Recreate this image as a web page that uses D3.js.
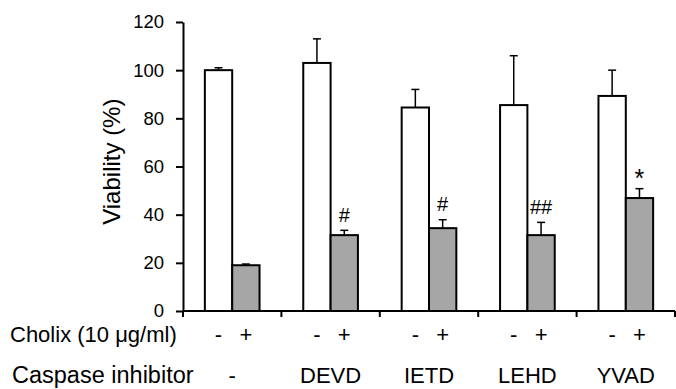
<!DOCTYPE html>
<html>
<head>
<meta charset="utf-8">
<script src="https://cdn.jsdelivr.net/npm/d3@7"></script>
<style>
  body { margin: 0; background: #fff; }
  text { font-family: Arial, "Liberation Sans", sans-serif; fill: #000; }
</style>
</head>
<body>
<div id="chart"></div>
<script>
// data
const inhibitors = ["-", "DEVD", "IETD", "LEHD", "YVAD"];
const controlVals = [100, 103, 84.5, 85.5, 89.3];   // cholix -
const controlErr  = [1, 10, 7.5, 20.5, 10.7];
const cholixVals  = [19, 31.5, 34.4, 31.5, 46.9];   // cholix +
const cholixErr   = [0.5, 2, 3.5, 5.3, 3.9];
const marks       = ["", "#", "#", "##", "*"];
const yTicks      = [0, 20, 40, 60, 80, 100, 120];

const W = 676, H = 389;
const margin = { top: 22, right: 1, bottom: 78, left: 183 };
const w = W - margin.left - margin.right,
      h = H - margin.top - margin.bottom;

const svg = d3.select("#chart")
  .append("svg")
    .attr("width", W)
    .attr("height", H);

const g = svg.append("g")
    .attr("transform", `translate(${margin.left},${margin.top})`);

// scales
const x = d3.scaleBand()
  .domain(inhibitors)
  .range([0, w]);

const sub = d3.scaleBand()
  .domain(["-", "+"])
  .range([0, x.bandwidth()])
  .paddingOuter(0.8)
  .paddingInner(0);

const y = d3.scaleLinear()
  .domain([0, 120])
  .range([h, 0]);

// y axis
const yAxis = g.append("g")
  .call(d3.axisLeft(y).tickValues(yTicks).tickSize(7).tickSizeOuter(0));
yAxis.select(".domain").attr("stroke-width", 2);
yAxis.selectAll(".tick line").attr("stroke-width", 2);
yAxis.selectAll(".tick text")
  .attr("x", -19)
  .attr("font-size", "18.5px")
  .attr("font-family", "Arial, 'Liberation Sans', sans-serif");

// y label
g.append("text")
  .attr("transform", `translate(-63,${y(62)}) rotate(-90)`)
  .attr("text-anchor", "middle")
  .attr("font-size", "24px")
  .text("Viability (%)");

// bars
const rows = inhibitors.map((k, i) => ([
  { grp: k, s: "-", v: controlVals[i], e: controlErr[i], fill: "#ffffff" },
  { grp: k, s: "+", v: cholixVals[i], e: cholixErr[i], fill: "#a6a6a6" }
])).flat();

const cx = d => x(d.grp) + sub(d.s) + sub.bandwidth() / 2;

const bar = g.selectAll(".bar")
  .data(rows)
  .enter()
  .append("g")
    .attr("class", "bar");

// error bars (upper only)
bar.append("line")
  .attr("x1", cx)
  .attr("x2", cx)
  .attr("y1", d => y(d.v))
  .attr("y2", d => y(d.v + d.e))
  .attr("stroke", "#000")
  .attr("stroke-width", 1.5);

bar.append("line")
  .attr("x1", d => cx(d) - 4)
  .attr("x2", d => cx(d) + 4)
  .attr("y1", d => y(d.v + d.e))
  .attr("y2", d => y(d.v + d.e))
  .attr("stroke", "#000")
  .attr("stroke-width", 1.5);

bar.append("rect")
  .attr("x", d => x(d.grp) + sub(d.s))
  .attr("y", d => y(d.v))
  .attr("width", sub.bandwidth())
  .attr("height", d => h - y(d.v))
  .attr("fill", d => d.fill)
  .attr("stroke", "#000")
  .attr("stroke-width", 2);

// significance marks
g.selectAll(".mark")
  .data(inhibitors)
  .enter()
  .append("text")
    .attr("class", "mark")
    .attr("x", d => x(d) + sub("+") + sub.bandwidth() / 2)
    .attr("y", (d, i) => y(cholixVals[i] + cholixErr[i]) - (marks[i] === "*" ? 2 : 8.5))
    .attr("text-anchor", "middle")
    .attr("font-size", (d, i) => marks[i] === "*" ? "25px" : "20px")
    .text((d, i) => marks[i]);

// x axis with group ticks
const xAxis = g.append("g")
  .attr("transform", `translate(0,${h})`);
xAxis.append("line")
  .attr("x1", 0).attr("x2", w)
  .attr("stroke", "#000").attr("stroke-width", 2);
xAxis.selectAll(".gtick")
  .data([0].concat(inhibitors.map(d => x(d) + x.bandwidth())))
  .enter()
  .append("line")
    .attr("x1", d => d)
    .attr("x2", d => d)
    .attr("y1", 0).attr("y2", 6)
    .attr("stroke", "#000").attr("stroke-width", 2);

// category rows
const cholixRow = h + 31, inhibRow = h + 72;
svg.append("text")
  .attr("x", 10).attr("y", margin.top + cholixRow)
  .attr("font-size", "22px")
  .text("Cholix (10 \u03bcg/ml)");
svg.append("text")
  .attr("x", 12).attr("y", margin.top + inhibRow)
  .attr("font-size", "23.5px")
  .text("Caspase inhibitor");

g.selectAll(".pm")
  .data(rows)
  .enter()
  .append("text")
    .attr("class", "pm")
    .attr("x", cx)
    .attr("y", cholixRow)
    .attr("text-anchor", "middle")
    .attr("font-size", "22px")
    .text(d => d.s);

g.selectAll(".inh")
  .data(inhibitors)
  .enter()
  .append("text")
    .attr("class", "inh")
    .attr("x", d => x(d) + x.bandwidth() / 2)
    .attr("y", inhibRow)
    .attr("text-anchor", "middle")
    .attr("font-size", "22px")
    .text(d => d);
</script>
</body>
</html>
